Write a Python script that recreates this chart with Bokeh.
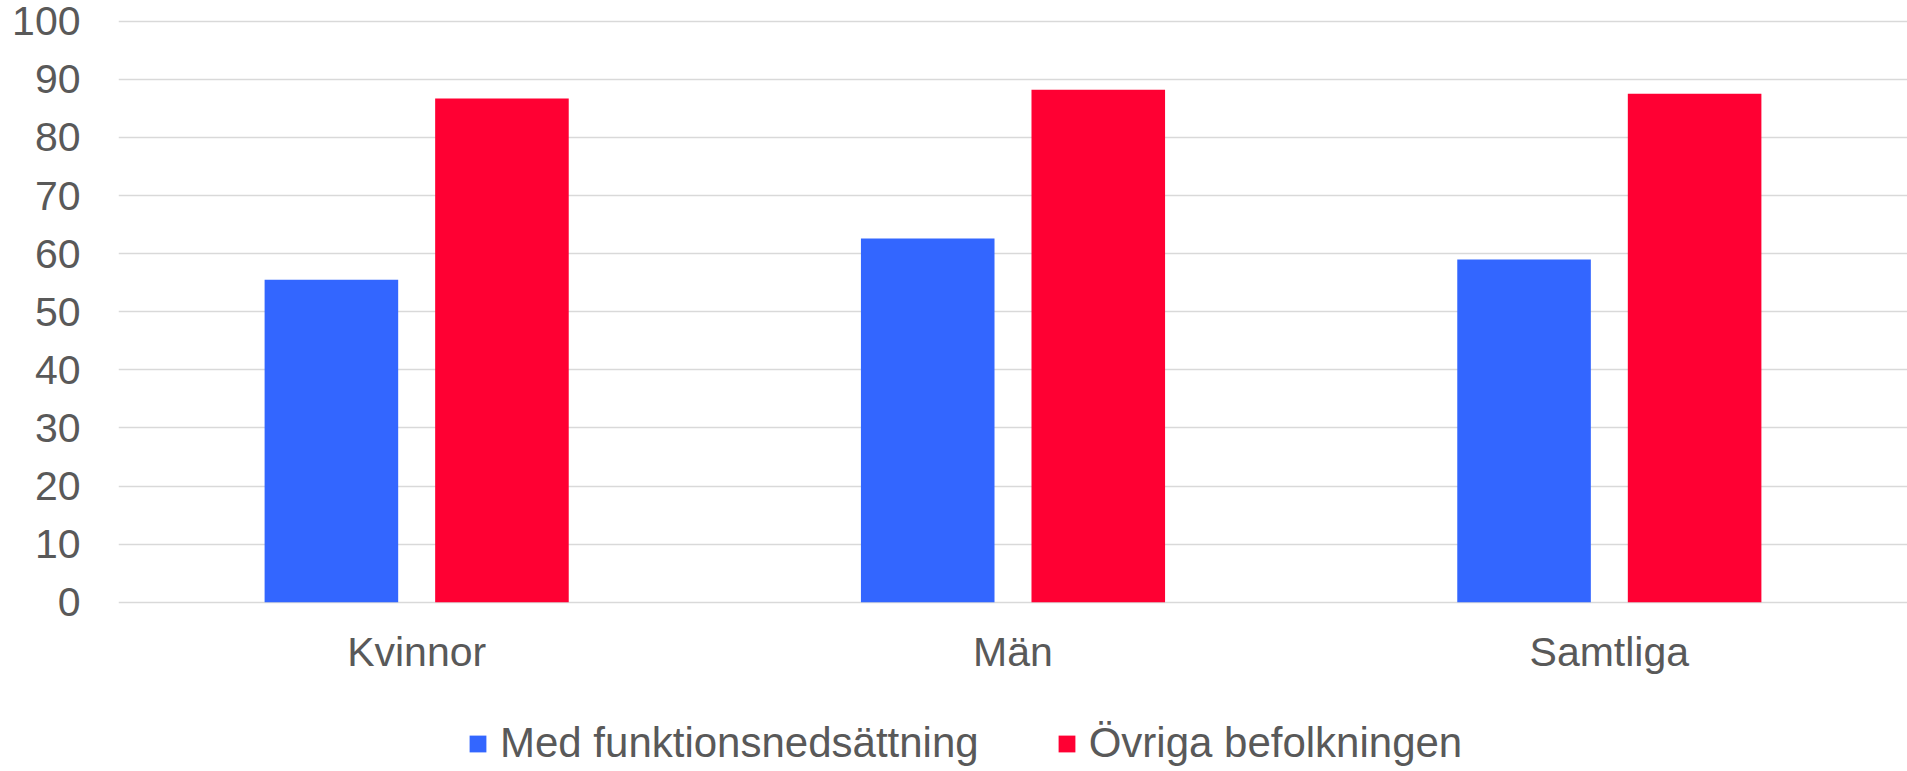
from bokeh.plotting import figure
from bokeh.models import ColumnDataSource, FactorRange, Legend, LegendItem, FixedTicker
from bokeh.transform import dodge
from bokeh.embed import file_html
from bokeh.resources import INLINE

categories = ["Kvinnor", "Män", "Samtliga"]
series_names = ["Med funktionsnedsättning", "Övriga befolkningen"]
med_funktionsnedsattning = [55.5, 62.6, 59.0]
ovriga_befolkningen = [86.7, 88.2, 87.5]
y_ticks = [0, 10, 20, 30, 40, 50, 60, 70, 80, 90, 100]
colors = ["#3366FF", "#FF0033"]

FONT = "Liberation Sans"
TXT = "#595959"

src = ColumnDataSource(dict(cat=categories, med=med_funktionsnedsattning, ovr=ovriga_befolkningen))

# frame spans 19..771 px; 5.81 px per unit
p = figure(x_range=FactorRange(*categories), y_range=(-29.13, 100.3),
           width=1907, height=771, output_backend="svg", toolbar_location=None,
           min_border_left=118, min_border_right=0, min_border_top=19, min_border_bottom=0)

r1 = p.vbar(x=dodge("cat", -0.143, range=p.x_range), top="med", width=0.224, source=src,
            fill_color=colors[0], line_color=None)
r2 = p.vbar(x=dodge("cat", 0.143, range=p.x_range), top="ovr", width=0.224, source=src,
            fill_color=colors[1], line_color=None)

p.outline_line_color = None
p.xgrid.grid_line_color = None
p.ygrid.grid_line_color = "#d9d9d9"
p.ygrid.grid_line_width = 1.5

p.yaxis.ticker = FixedTicker(ticks=y_ticks)
for ax in (p.xaxis, p.yaxis):
    ax.axis_line_color = None
    ax.major_tick_line_color = None
    ax.minor_tick_line_color = None
    ax.major_tick_out = 0
    ax.major_tick_in = 0
    ax.major_label_text_font = FONT
    ax.major_label_text_font_size = "41px"
    ax.major_label_text_color = TXT
p.yaxis.major_label_standoff = 38
p.xaxis.major_label_standoff = 27
p.xaxis.fixed_location = 0

legend = Legend(items=[LegendItem(label=series_names[0], renderers=[r1]),
                       LegendItem(label=series_names[1], renderers=[r2])],
                orientation="horizontal", location=(349, 4),
                label_text_font=FONT, label_text_font_size="42px", label_text_color=TXT,
                glyph_width=21, glyph_height=21, label_standoff=12, spacing=77,
                padding=0, margin=0, border_line_color=None, background_fill_alpha=0)
p.add_layout(legend)

open("out.html", "w").write(file_html(p, INLINE))
